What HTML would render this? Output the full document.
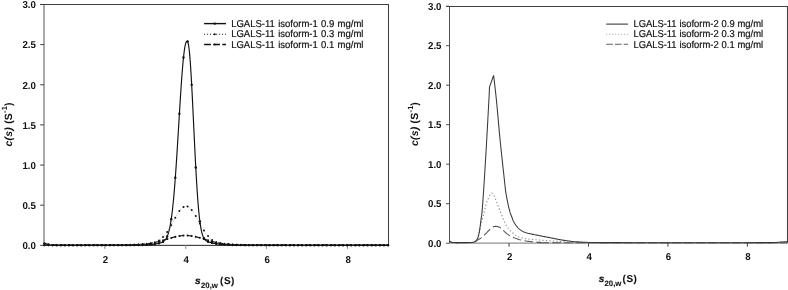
<!DOCTYPE html>
<html><head><meta charset="utf-8"><style>
html,body{margin:0;padding:0;background:#fff;}
svg{display:block;will-change:transform;}
text{font-family:"Liberation Sans",sans-serif;text-rendering:geometricPrecision;}
.tk{font-size:10.0px;font-weight:bold;fill:#111;}
.lg{font-size:10.0px;fill:#111;stroke:#111;stroke-width:0.2px;word-spacing:0.7px;}
.lgr{font-size:10.0px;fill:#111;stroke:#111;stroke-width:0.2px;word-spacing:0.3px;}
.ti{font-size:10.0px;font-weight:bold;fill:#111;}
</style></head><body>
<svg width="788" height="290" viewBox="0 0 788 290">
<rect width="788" height="290" fill="#fff"/>
<line x1="44.0" y1="4.5" x2="44.0" y2="245.35" stroke="#a0a0a0" stroke-width="1.8"/>
<polyline points="40,4.5 388.5,4.5 388.5,245.35" fill="none" stroke="#404040" stroke-width="1.05"/>
<line x1="44.0" y1="245.35" x2="388.5" y2="245.35" stroke="#222" stroke-width="1"/>
<line x1="40.2" y1="245.35" x2="44.0" y2="245.35" stroke="#404040" stroke-width="1"/>
<text class="tk" transform="translate(35.90,249.10) scale(0.97,1)" text-anchor="end">0.0</text>
<line x1="40.2" y1="205.20" x2="44.0" y2="205.20" stroke="#404040" stroke-width="1"/>
<text class="tk" transform="translate(35.90,208.95) scale(0.97,1)" text-anchor="end">0.5</text>
<line x1="40.2" y1="165.05" x2="44.0" y2="165.05" stroke="#404040" stroke-width="1"/>
<text class="tk" transform="translate(35.90,168.80) scale(0.97,1)" text-anchor="end">1.0</text>
<line x1="40.2" y1="124.90" x2="44.0" y2="124.90" stroke="#404040" stroke-width="1"/>
<text class="tk" transform="translate(35.90,128.65) scale(0.97,1)" text-anchor="end">1.5</text>
<line x1="40.2" y1="84.75" x2="44.0" y2="84.75" stroke="#404040" stroke-width="1"/>
<text class="tk" transform="translate(35.90,88.50) scale(0.97,1)" text-anchor="end">2.0</text>
<line x1="40.2" y1="44.60" x2="44.0" y2="44.60" stroke="#404040" stroke-width="1"/>
<text class="tk" transform="translate(35.90,48.35) scale(0.97,1)" text-anchor="end">2.5</text>
<line x1="40.2" y1="4.45" x2="44.0" y2="4.45" stroke="#404040" stroke-width="1"/>
<text class="tk" transform="translate(35.90,8.20) scale(0.97,1)" text-anchor="end">3.0</text>
<line x1="104.80" y1="245.35" x2="104.80" y2="248.95" stroke="#909090" stroke-width="1"/>
<text class="tk" transform="translate(105.40,262.90) scale(0.97,1)" text-anchor="middle">2</text>
<line x1="185.70" y1="245.35" x2="185.70" y2="248.95" stroke="#909090" stroke-width="1"/>
<text class="tk" transform="translate(186.30,262.90) scale(0.97,1)" text-anchor="middle">4</text>
<line x1="266.60" y1="245.35" x2="266.60" y2="248.95" stroke="#909090" stroke-width="1"/>
<text class="tk" transform="translate(267.20,262.90) scale(0.97,1)" text-anchor="middle">6</text>
<line x1="347.50" y1="245.35" x2="347.50" y2="248.95" stroke="#909090" stroke-width="1"/>
<text class="tk" transform="translate(348.10,262.90) scale(0.97,1)" text-anchor="middle">8</text>
<polyline points="44.10,245.15 44.60,245.15 45.10,245.15 45.60,245.15 46.10,245.15 46.60,245.15 47.10,245.15 47.60,245.15 48.10,245.15 48.60,245.15 49.10,245.15 49.60,245.15 50.10,245.15 50.60,245.15 51.10,245.15 51.60,245.15 52.10,245.15 52.60,245.15 53.10,245.15 53.60,245.15 54.10,245.15 54.60,245.15 55.10,245.15 55.60,245.15 56.10,245.15 56.60,245.15 57.10,245.15 57.60,245.15 58.10,245.15 58.60,245.15 59.10,245.14 59.60,245.14 60.10,245.14 60.60,245.14 61.10,245.14 61.60,245.14 62.10,245.14 62.60,245.14 63.10,245.14 63.60,245.14 64.10,245.14 64.60,245.14 65.10,245.14 65.60,245.14 66.10,245.14 66.60,245.14 67.10,245.14 67.60,245.14 68.10,245.14 68.60,245.14 69.10,245.14 69.60,245.14 70.10,245.14 70.60,245.14 71.10,245.14 71.60,245.14 72.10,245.14 72.60,245.14 73.10,245.14 73.60,245.14 74.10,245.14 74.60,245.14 75.10,245.14 75.60,245.13 76.10,245.13 76.60,245.13 77.10,245.13 77.60,245.13 78.10,245.13 78.60,245.13 79.10,245.13 79.60,245.13 80.10,245.13 80.60,245.13 81.10,245.13 81.60,245.13 82.10,245.13 82.60,245.13 83.10,245.13 83.60,245.12 84.10,245.12 84.60,245.12 85.10,245.12 85.60,245.12 86.10,245.12 86.60,245.12 87.10,245.12 87.60,245.12 88.10,245.12 88.60,245.12 89.10,245.11 89.60,245.11 90.10,245.11 90.60,245.11 91.10,245.11 91.60,245.11 92.10,245.11 92.60,245.11 93.10,245.10 93.60,245.10 94.10,245.10 94.60,245.10 95.10,245.10 95.60,245.10 96.10,245.10 96.60,245.10 97.10,245.09 97.60,245.09 98.10,245.09 98.60,245.09 99.10,245.09 99.60,245.09 100.10,245.08 100.60,245.08 101.10,245.08 101.60,245.08 102.10,245.08 102.60,245.07 103.10,245.07 103.60,245.07 104.10,245.07 104.60,245.07 105.10,245.06 105.60,245.06 106.10,245.06 106.60,245.06 107.10,245.05 107.60,245.05 108.10,245.05 108.60,245.05 109.10,245.04 109.60,245.04 110.10,245.04 110.60,245.04 111.10,245.03 111.60,245.03 112.10,245.03 112.60,245.02 113.10,245.02 113.60,245.02 114.10,245.01 114.60,245.01 115.10,245.01 115.60,245.00 116.10,245.00 116.60,245.00 117.10,244.99 117.60,244.99 118.10,244.98 118.60,244.98 119.10,244.97 119.60,244.97 120.10,244.96 120.60,244.96 121.10,244.95 121.60,244.95 122.10,244.94 122.60,244.94 123.10,244.93 123.60,244.92 124.10,244.92 124.60,244.91 125.10,244.90 125.60,244.89 126.10,244.89 126.60,244.88 127.10,244.87 127.60,244.86 128.10,244.85 128.60,244.84 129.10,244.83 129.60,244.82 130.10,244.80 130.60,244.79 131.10,244.78 131.60,244.76 132.10,244.75 132.60,244.73 133.10,244.72 133.60,244.70 134.10,244.68 134.60,244.66 135.10,244.64 135.60,244.62 136.10,244.60 136.60,244.58 137.10,244.55 137.60,244.53 138.10,244.50 138.60,244.47 139.10,244.44 139.60,244.41 140.10,244.38 140.60,244.34 141.10,244.30 141.60,244.27 142.10,244.23 142.60,244.19 143.10,244.14 143.60,244.10 144.10,244.05 144.60,244.00 145.10,243.95 145.60,243.89 146.10,243.83 146.60,243.78 147.10,243.71 147.60,243.65 148.10,243.58 148.60,243.51 149.10,243.44 149.60,243.37 150.10,243.29 150.60,243.21 151.10,243.13 151.60,243.04 152.10,242.95 152.60,242.86 153.10,242.77 153.60,242.67 154.10,242.57 154.60,242.46 155.10,242.36 155.60,242.25 156.10,242.14 156.60,242.02 157.10,241.91 157.60,241.79 158.10,241.66 158.60,241.54 159.10,241.41 159.60,241.28 160.10,241.15 160.60,241.01 161.10,240.87 161.60,240.74 162.10,240.59 162.60,240.45 163.10,240.31 163.60,240.16 164.10,240.02 164.60,239.87 165.10,239.72 165.60,239.57 166.10,239.42 166.60,239.27 167.10,239.12 167.60,238.97 168.10,238.82 168.60,238.67 169.10,238.52 169.60,238.37 170.10,238.22 170.60,238.08 171.10,237.93 171.60,237.79 172.10,237.65 172.60,237.51 173.10,237.38 173.60,237.25 174.10,237.12 174.60,236.99 175.10,236.87 175.60,236.76 176.10,236.64 176.60,236.53 177.10,236.43 177.60,236.33 178.10,236.23 178.60,236.14 179.10,236.06 179.60,235.98 180.10,235.91 180.60,235.84 181.10,235.78 181.60,235.72 182.10,235.68 182.60,235.63 183.10,235.60 183.60,235.57 184.10,235.54 184.60,235.53 185.10,235.52 185.60,235.51 186.10,235.52 186.60,235.53 187.10,235.54 187.60,235.57 188.10,235.60 188.60,235.63 189.10,235.68 189.60,235.72 190.10,235.78 190.60,235.84 191.10,235.91 191.60,235.98 192.10,236.06 192.60,236.14 193.10,236.23 193.60,236.33 194.10,236.43 194.60,236.53 195.10,236.64 195.60,236.76 196.10,236.87 196.60,236.99 197.10,237.12 197.60,237.25 198.10,237.38 198.60,237.51 199.10,237.65 199.60,237.79 200.10,237.93 200.60,238.08 201.10,238.22 201.60,238.37 202.10,238.52 202.60,238.67 203.10,238.82 203.60,238.97 204.10,239.12 204.60,239.27 205.10,239.42 205.60,239.57 206.10,239.72 206.60,239.87 207.10,240.02 207.60,240.16 208.10,240.31 208.60,240.45 209.10,240.59 209.60,240.74 210.10,240.87 210.60,241.01 211.10,241.15 211.60,241.28 212.10,241.41 212.60,241.54 213.10,241.66 213.60,241.79 214.10,241.91 214.60,242.02 215.10,242.14 215.60,242.25 216.10,242.36 216.60,242.46 217.10,242.57 217.60,242.67 218.10,242.77 218.60,242.86 219.10,242.95 219.60,243.04 220.10,243.13 220.60,243.21 221.10,243.29 221.60,243.37 222.10,243.44 222.60,243.51 223.10,243.58 223.60,243.65 224.10,243.71 224.60,243.78 225.10,243.83 225.60,243.89 226.10,243.95 226.60,244.00 227.10,244.05 227.60,244.10 228.10,244.14 228.60,244.19 229.10,244.23 229.60,244.27 230.10,244.30 230.60,244.34 231.10,244.38 231.60,244.41 232.10,244.44 232.60,244.47 233.10,244.50 233.60,244.53 234.10,244.55 234.60,244.58 235.10,244.60 235.60,244.62 236.10,244.64 236.60,244.66 237.10,244.68 237.60,244.70 238.10,244.72 238.60,244.73 239.10,244.75 239.60,244.76 240.10,244.78 240.60,244.79 241.10,244.80 241.60,244.82 242.10,244.83 242.60,244.84 243.10,244.85 243.60,244.86 244.10,244.87 244.60,244.88 245.10,244.89 245.60,244.89 246.10,244.90 246.60,244.91 247.10,244.92 247.60,244.92 248.10,244.93 248.60,244.94 249.10,244.94 249.60,244.95 250.10,244.95 250.60,244.96 251.10,244.96 251.60,244.97 252.10,244.97 252.60,244.98 253.10,244.98 253.60,244.99 254.10,244.99 254.60,245.00 255.10,245.00 255.60,245.00 256.10,245.01 256.60,245.01 257.10,245.01 257.60,245.02 258.10,245.02 258.60,245.02 259.10,245.03 259.60,245.03 260.10,245.03 260.60,245.04 261.10,245.04 261.60,245.04 262.10,245.04 262.60,245.05 263.10,245.05 263.60,245.05 264.10,245.05 264.60,245.06 265.10,245.06 265.60,245.06 266.10,245.06 266.60,245.07 267.10,245.07 267.60,245.07 268.10,245.07 268.60,245.07 269.10,245.08 269.60,245.08 270.10,245.08 270.60,245.08 271.10,245.08 271.60,245.09 272.10,245.09 272.60,245.09 273.10,245.09 273.60,245.09 274.10,245.09 274.60,245.10 275.10,245.10 275.60,245.10 276.10,245.10 276.60,245.10 277.10,245.10 277.60,245.10 278.10,245.10 278.60,245.11 279.10,245.11 279.60,245.11 280.10,245.11 280.60,245.11 281.10,245.11 281.60,245.11 282.10,245.11 282.60,245.12 283.10,245.12 283.60,245.12 284.10,245.12 284.60,245.12 285.10,245.12 285.60,245.12 286.10,245.12 286.60,245.12 287.10,245.12 287.60,245.12 288.10,245.13 288.60,245.13 289.10,245.13 289.60,245.13 290.10,245.13 290.60,245.13 291.10,245.13 291.60,245.13 292.10,245.13 292.60,245.13 293.10,245.13 293.60,245.13 294.10,245.13 294.60,245.13 295.10,245.13 295.60,245.13 296.10,245.14 296.60,245.14 297.10,245.14 297.60,245.14 298.10,245.14 298.60,245.14 299.10,245.14 299.60,245.14 300.10,245.14 300.60,245.14 301.10,245.14 301.60,245.14 302.10,245.14 302.60,245.14 303.10,245.14 303.60,245.14 304.10,245.14 304.60,245.14 305.10,245.14 305.60,245.14 306.10,245.14 306.60,245.14 307.10,245.14 307.60,245.14 308.10,245.14 308.60,245.14 309.10,245.14 309.60,245.14 310.10,245.14 310.60,245.14 311.10,245.14 311.60,245.14 312.10,245.14 312.60,245.15 313.10,245.15 313.60,245.15 314.10,245.15 314.60,245.15 315.10,245.15 315.60,245.15 316.10,245.15 316.60,245.15 317.10,245.15 317.60,245.15 318.10,245.15 318.60,245.15 319.10,245.15 319.60,245.15 320.10,245.15 320.60,245.15 321.10,245.15 321.60,245.15 322.10,245.15 322.60,245.15 323.10,245.15 323.60,245.15 324.10,245.15 324.60,245.15 325.10,245.15 325.60,245.15 326.10,245.15 326.60,245.15 327.10,245.15 327.60,245.15 328.10,245.15 328.60,245.15 329.10,245.15 329.60,245.15 330.10,245.15 330.60,245.15 331.10,245.15 331.60,245.15 332.10,245.15 332.60,245.15 333.10,245.15 333.60,245.15 334.10,245.15 334.60,245.15 335.10,245.15 335.60,245.15 336.10,245.15 336.60,245.15 337.10,245.15 337.60,245.15 338.10,245.15 338.60,245.15 339.10,245.15 339.60,245.15 340.10,245.15 340.60,245.15 341.10,245.15 341.60,245.15 342.10,245.15 342.60,245.15 343.10,245.15 343.60,245.15 344.10,245.15 344.60,245.15 345.10,245.15 345.60,245.15 346.10,245.15 346.60,245.15 347.10,245.15 347.60,245.15 348.10,245.15 348.60,245.15 349.10,245.15 349.60,245.15 350.10,245.15 350.60,245.15 351.10,245.15 351.60,245.15 352.10,245.15 352.60,245.15 353.10,245.15 353.60,245.15 354.10,245.15 354.60,245.15 355.10,245.15 355.60,245.15 356.10,245.15 356.60,245.15 357.10,245.15 357.60,245.15 358.10,245.15 358.60,245.15 359.10,245.15 359.60,245.15 360.10,245.15 360.60,245.15 361.10,245.15 361.60,245.15 362.10,245.15 362.60,245.15 363.10,245.15 363.60,245.15 364.10,245.15 364.60,245.15 365.10,245.15 365.60,245.15 366.10,245.15 366.60,245.15 367.10,245.15 367.60,245.15 368.10,245.15 368.60,245.15 369.10,245.15 369.60,245.15 370.10,245.15 370.60,245.15 371.10,245.15 371.60,245.15 372.10,245.15 372.60,245.15 373.10,245.15 373.60,245.15 374.10,245.15 374.60,245.15 375.10,245.15 375.60,245.15 376.10,245.15 376.60,245.15 377.10,245.15 377.60,245.15 378.10,245.15 378.60,245.15 379.10,245.15 379.60,245.15 380.10,245.15 380.60,245.15 381.10,245.15 381.60,245.15 382.10,245.15 382.60,245.15 383.10,245.15 383.60,245.15 384.10,245.15 384.60,245.15 385.10,245.15 385.60,245.15 386.10,245.15 386.60,245.15 387.10,245.15 387.60,245.15 388.10,245.15" fill="none" stroke="#111" stroke-width="1.1" stroke-dasharray="5,3"/>
<g fill="#111"><circle cx="44.40" cy="245.15" r="1.0"/><circle cx="48.49" cy="245.15" r="1.0"/><circle cx="52.58" cy="245.15" r="1.0"/><circle cx="56.67" cy="245.15" r="1.0"/><circle cx="60.76" cy="245.14" r="1.0"/><circle cx="64.86" cy="245.14" r="1.0"/><circle cx="68.95" cy="245.14" r="1.0"/><circle cx="73.04" cy="245.14" r="1.0"/><circle cx="77.13" cy="245.13" r="1.0"/><circle cx="81.22" cy="245.13" r="1.0"/><circle cx="85.31" cy="245.12" r="1.0"/><circle cx="89.40" cy="245.11" r="1.0"/><circle cx="93.49" cy="245.10" r="1.0"/><circle cx="97.58" cy="245.09" r="1.0"/><circle cx="101.67" cy="245.08" r="1.0"/><circle cx="105.77" cy="245.06" r="1.0"/><circle cx="109.86" cy="245.04" r="1.0"/><circle cx="113.95" cy="245.02" r="1.0"/><circle cx="118.04" cy="244.98" r="1.0"/><circle cx="122.13" cy="244.94" r="1.0"/><circle cx="126.22" cy="244.88" r="1.0"/><circle cx="130.31" cy="244.80" r="1.0"/><circle cx="134.40" cy="244.67" r="1.0"/><circle cx="138.49" cy="244.48" r="1.0"/><circle cx="142.58" cy="244.19" r="1.0"/><circle cx="146.68" cy="243.77" r="1.0"/><circle cx="150.77" cy="243.18" r="1.0"/><circle cx="154.86" cy="242.41" r="1.0"/><circle cx="158.95" cy="241.45" r="1.0"/><circle cx="163.04" cy="240.33" r="1.0"/><circle cx="167.13" cy="239.11" r="1.0"/><circle cx="171.22" cy="237.90" r="1.0"/><circle cx="175.31" cy="236.82" r="1.0"/><circle cx="179.40" cy="236.01" r="1.0"/><circle cx="183.49" cy="235.57" r="1.0"/><circle cx="187.59" cy="235.57" r="1.0"/><circle cx="191.68" cy="235.99" r="1.0"/><circle cx="195.77" cy="236.79" r="1.0"/><circle cx="199.86" cy="237.86" r="1.0"/><circle cx="203.95" cy="239.07" r="1.0"/><circle cx="208.04" cy="240.29" r="1.0"/><circle cx="212.13" cy="241.42" r="1.0"/><circle cx="216.22" cy="242.38" r="1.0"/><circle cx="220.31" cy="243.16" r="1.0"/><circle cx="224.40" cy="243.75" r="1.0"/><circle cx="228.50" cy="244.18" r="1.0"/><circle cx="232.59" cy="244.47" r="1.0"/><circle cx="236.68" cy="244.67" r="1.0"/><circle cx="240.77" cy="244.80" r="1.0"/><circle cx="244.86" cy="244.88" r="1.0"/><circle cx="248.95" cy="244.94" r="1.0"/><circle cx="253.04" cy="244.98" r="1.0"/><circle cx="257.13" cy="245.01" r="1.0"/><circle cx="261.22" cy="245.04" r="1.0"/><circle cx="265.31" cy="245.06" r="1.0"/><circle cx="269.41" cy="245.08" r="1.0"/><circle cx="273.50" cy="245.09" r="1.0"/><circle cx="277.59" cy="245.10" r="1.0"/><circle cx="281.68" cy="245.11" r="1.0"/><circle cx="285.77" cy="245.12" r="1.0"/><circle cx="289.86" cy="245.13" r="1.0"/><circle cx="293.95" cy="245.13" r="1.0"/><circle cx="298.04" cy="245.14" r="1.0"/><circle cx="302.13" cy="245.14" r="1.0"/><circle cx="306.22" cy="245.14" r="1.0"/><circle cx="310.31" cy="245.14" r="1.0"/><circle cx="314.41" cy="245.15" r="1.0"/><circle cx="318.50" cy="245.15" r="1.0"/><circle cx="322.59" cy="245.15" r="1.0"/><circle cx="326.68" cy="245.15" r="1.0"/><circle cx="330.77" cy="245.15" r="1.0"/><circle cx="334.86" cy="245.15" r="1.0"/><circle cx="338.95" cy="245.15" r="1.0"/><circle cx="343.04" cy="245.15" r="1.0"/><circle cx="347.13" cy="245.15" r="1.0"/><circle cx="351.22" cy="245.15" r="1.0"/><circle cx="355.32" cy="245.15" r="1.0"/><circle cx="359.41" cy="245.15" r="1.0"/><circle cx="363.50" cy="245.15" r="1.0"/><circle cx="367.59" cy="245.15" r="1.0"/><circle cx="371.68" cy="245.15" r="1.0"/><circle cx="375.77" cy="245.15" r="1.0"/><circle cx="379.86" cy="245.15" r="1.0"/><circle cx="383.95" cy="245.15" r="1.0"/><circle cx="388.04" cy="245.15" r="1.0"/></g>
<polyline points="44.10,245.15 44.60,245.15 45.10,245.15 45.60,245.15 46.10,245.15 46.60,245.15 47.10,245.15 47.60,245.15 48.10,245.15 48.60,245.15 49.10,245.15 49.60,245.15 50.10,245.15 50.60,245.15 51.10,245.15 51.60,245.15 52.10,245.15 52.60,245.15 53.10,245.15 53.60,245.15 54.10,245.15 54.60,245.15 55.10,245.15 55.60,245.15 56.10,245.15 56.60,245.15 57.10,245.15 57.60,245.15 58.10,245.15 58.60,245.15 59.10,245.15 59.60,245.15 60.10,245.15 60.60,245.15 61.10,245.15 61.60,245.15 62.10,245.15 62.60,245.15 63.10,245.15 63.60,245.15 64.10,245.15 64.60,245.15 65.10,245.15 65.60,245.15 66.10,245.15 66.60,245.15 67.10,245.15 67.60,245.15 68.10,245.15 68.60,245.15 69.10,245.15 69.60,245.15 70.10,245.15 70.60,245.15 71.10,245.15 71.60,245.15 72.10,245.15 72.60,245.15 73.10,245.15 73.60,245.15 74.10,245.15 74.60,245.15 75.10,245.15 75.60,245.15 76.10,245.15 76.60,245.15 77.10,245.15 77.60,245.15 78.10,245.15 78.60,245.15 79.10,245.15 79.60,245.15 80.10,245.15 80.60,245.15 81.10,245.15 81.60,245.15 82.10,245.15 82.60,245.15 83.10,245.15 83.60,245.15 84.10,245.15 84.60,245.15 85.10,245.15 85.60,245.15 86.10,245.15 86.60,245.15 87.10,245.15 87.60,245.15 88.10,245.15 88.60,245.15 89.10,245.15 89.60,245.14 90.10,245.14 90.60,245.14 91.10,245.14 91.60,245.14 92.10,245.14 92.60,245.14 93.10,245.14 93.60,245.14 94.10,245.14 94.60,245.14 95.10,245.14 95.60,245.14 96.10,245.14 96.60,245.14 97.10,245.14 97.60,245.14 98.10,245.14 98.60,245.14 99.10,245.14 99.60,245.14 100.10,245.13 100.60,245.13 101.10,245.13 101.60,245.13 102.10,245.13 102.60,245.13 103.10,245.13 103.60,245.13 104.10,245.13 104.60,245.13 105.10,245.12 105.60,245.12 106.10,245.12 106.60,245.12 107.10,245.12 107.60,245.12 108.10,245.12 108.60,245.11 109.10,245.11 109.60,245.11 110.10,245.11 110.60,245.11 111.10,245.10 111.60,245.10 112.10,245.10 112.60,245.10 113.10,245.10 113.60,245.09 114.10,245.09 114.60,245.09 115.10,245.08 115.60,245.08 116.10,245.08 116.60,245.07 117.10,245.07 117.60,245.07 118.10,245.06 118.60,245.06 119.10,245.06 119.60,245.05 120.10,245.05 120.60,245.04 121.10,245.04 121.60,245.04 122.10,245.03 122.60,245.03 123.10,245.02 123.60,245.02 124.10,245.01 124.60,245.00 125.10,245.00 125.60,244.99 126.10,244.99 126.60,244.98 127.10,244.97 127.60,244.97 128.10,244.96 128.60,244.95 129.10,244.94 129.60,244.94 130.10,244.93 130.60,244.92 131.10,244.91 131.60,244.90 132.10,244.89 132.60,244.88 133.10,244.87 133.60,244.86 134.10,244.85 134.60,244.84 135.10,244.83 135.60,244.82 136.10,244.81 136.60,244.80 137.10,244.78 137.60,244.77 138.10,244.75 138.60,244.74 139.10,244.72 139.60,244.70 140.10,244.69 140.60,244.67 141.10,244.65 141.60,244.62 142.10,244.60 142.60,244.58 143.10,244.55 143.60,244.52 144.10,244.49 144.60,244.46 145.10,244.42 145.60,244.38 146.10,244.34 146.60,244.29 147.10,244.24 147.60,244.19 148.10,244.13 148.60,244.07 149.10,244.00 149.60,243.92 150.10,243.84 150.60,243.75 151.10,243.65 151.60,243.55 152.10,243.43 152.60,243.31 153.10,243.17 153.60,243.03 154.10,242.87 154.60,242.70 155.10,242.52 155.60,242.32 156.10,242.10 156.60,241.87 157.10,241.63 157.60,241.36 158.10,241.08 158.60,240.78 159.10,240.45 159.60,240.11 160.10,239.74 160.60,239.35 161.10,238.93 161.60,238.49 162.10,238.03 162.60,237.54 163.10,237.03 163.60,236.49 164.10,235.92 164.60,235.33 165.10,234.71 165.60,234.06 166.10,233.39 166.60,232.69 167.10,231.97 167.60,231.22 168.10,230.45 168.60,229.65 169.10,228.84 169.60,228.01 170.10,227.15 170.60,226.29 171.10,225.41 171.60,224.51 172.10,223.61 172.60,222.70 173.10,221.78 173.60,220.86 174.10,219.95 174.60,219.04 175.10,218.13 175.60,217.24 176.10,216.35 176.60,215.49 177.10,214.64 177.60,213.82 178.10,213.03 178.60,212.26 179.10,211.53 179.60,210.83 180.10,210.18 180.60,209.56 181.10,208.99 181.60,208.47 182.10,207.99 182.60,207.57 183.10,207.20 183.60,206.89 184.10,206.64 184.60,206.44 185.10,206.30 185.60,206.22 186.10,206.20 186.60,206.25 187.10,206.35 187.60,206.51 188.10,206.73 188.60,207.01 189.10,207.34 189.60,207.73 190.10,208.18 190.60,208.67 191.10,209.21 191.60,209.80 192.10,210.43 192.60,211.11 193.10,211.82 193.60,212.56 194.10,213.34 194.60,214.15 195.10,214.98 195.60,215.83 196.10,216.70 196.60,217.59 197.10,218.49 197.60,219.40 198.10,220.31 198.60,221.23 199.10,222.15 199.60,223.06 200.10,223.97 200.60,224.87 201.10,225.76 201.60,226.64 202.10,227.50 202.60,228.34 203.10,229.17 203.60,229.97 204.10,230.76 204.60,231.52 205.10,232.26 205.60,232.97 206.10,233.66 206.60,234.32 207.10,234.96 207.60,235.57 208.10,236.15 208.60,236.71 209.10,237.24 209.60,237.74 210.10,238.22 210.60,238.67 211.10,239.10 211.60,239.51 212.10,239.89 212.60,240.25 213.10,240.58 213.60,240.90 214.10,241.19 214.60,241.47 215.10,241.73 215.60,241.97 216.10,242.19 216.60,242.40 217.10,242.59 217.60,242.77 218.10,242.94 218.60,243.09 219.10,243.23 219.60,243.36 220.10,243.48 220.60,243.59 221.10,243.69 221.60,243.79 222.10,243.87 222.60,243.95 223.10,244.03 223.60,244.09 224.10,244.15 224.60,244.21 225.10,244.26 225.60,244.31 226.10,244.36 226.60,244.40 227.10,244.43 227.60,244.47 228.10,244.50 228.60,244.53 229.10,244.56 229.60,244.59 230.10,244.61 230.60,244.63 231.10,244.65 231.60,244.67 232.10,244.69 232.60,244.71 233.10,244.73 233.60,244.74 234.10,244.76 234.60,244.77 235.10,244.79 235.60,244.80 236.10,244.81 236.60,244.83 237.10,244.84 237.60,244.85 238.10,244.86 238.60,244.87 239.10,244.88 239.60,244.89 240.10,244.90 240.60,244.91 241.10,244.92 241.60,244.92 242.10,244.93 242.60,244.94 243.10,244.95 243.60,244.95 244.10,244.96 244.60,244.97 245.10,244.98 245.60,244.98 246.10,244.99 246.60,244.99 247.10,245.00 247.60,245.01 248.10,245.01 248.60,245.02 249.10,245.02 249.60,245.03 250.10,245.03 250.60,245.04 251.10,245.04 251.60,245.05 252.10,245.05 252.60,245.05 253.10,245.06 253.60,245.06 254.10,245.07 254.60,245.07 255.10,245.07 255.60,245.08 256.10,245.08 256.60,245.08 257.10,245.09 257.60,245.09 258.10,245.09 258.60,245.09 259.10,245.10 259.60,245.10 260.10,245.10 260.60,245.10 261.10,245.11 261.60,245.11 262.10,245.11 262.60,245.11 263.10,245.11 263.60,245.11 264.10,245.12 264.60,245.12 265.10,245.12 265.60,245.12 266.10,245.12 266.60,245.12 267.10,245.13 267.60,245.13 268.10,245.13 268.60,245.13 269.10,245.13 269.60,245.13 270.10,245.13 270.60,245.13 271.10,245.13 271.60,245.13 272.10,245.14 272.60,245.14 273.10,245.14 273.60,245.14 274.10,245.14 274.60,245.14 275.10,245.14 275.60,245.14 276.10,245.14 276.60,245.14 277.10,245.14 277.60,245.14 278.10,245.14 278.60,245.14 279.10,245.14 279.60,245.14 280.10,245.14 280.60,245.14 281.10,245.14 281.60,245.14 282.10,245.14 282.60,245.15 283.10,245.15 283.60,245.15 284.10,245.15 284.60,245.15 285.10,245.15 285.60,245.15 286.10,245.15 286.60,245.15 287.10,245.15 287.60,245.15 288.10,245.15 288.60,245.15 289.10,245.15 289.60,245.15 290.10,245.15 290.60,245.15 291.10,245.15 291.60,245.15 292.10,245.15 292.60,245.15 293.10,245.15 293.60,245.15 294.10,245.15 294.60,245.15 295.10,245.15 295.60,245.15 296.10,245.15 296.60,245.15 297.10,245.15 297.60,245.15 298.10,245.15 298.60,245.15 299.10,245.15 299.60,245.15 300.10,245.15 300.60,245.15 301.10,245.15 301.60,245.15 302.10,245.15 302.60,245.15 303.10,245.15 303.60,245.15 304.10,245.15 304.60,245.15 305.10,245.15 305.60,245.15 306.10,245.15 306.60,245.15 307.10,245.15 307.60,245.15 308.10,245.15 308.60,245.15 309.10,245.15 309.60,245.15 310.10,245.15 310.60,245.15 311.10,245.15 311.60,245.15 312.10,245.15 312.60,245.15 313.10,245.15 313.60,245.15 314.10,245.15 314.60,245.15 315.10,245.15 315.60,245.15 316.10,245.15 316.60,245.15 317.10,245.15 317.60,245.15 318.10,245.15 318.60,245.15 319.10,245.15 319.60,245.15 320.10,245.15 320.60,245.15 321.10,245.15 321.60,245.15 322.10,245.15 322.60,245.15 323.10,245.15 323.60,245.15 324.10,245.15 324.60,245.15 325.10,245.15 325.60,245.15 326.10,245.15 326.60,245.15 327.10,245.15 327.60,245.15 328.10,245.15 328.60,245.15 329.10,245.15 329.60,245.15 330.10,245.15 330.60,245.15 331.10,245.15 331.60,245.15 332.10,245.15 332.60,245.15 333.10,245.15 333.60,245.15 334.10,245.15 334.60,245.15 335.10,245.15 335.60,245.15 336.10,245.15 336.60,245.15 337.10,245.15 337.60,245.15 338.10,245.15 338.60,245.15 339.10,245.15 339.60,245.15 340.10,245.15 340.60,245.15 341.10,245.15 341.60,245.15 342.10,245.15 342.60,245.15 343.10,245.15 343.60,245.15 344.10,245.15 344.60,245.15 345.10,245.15 345.60,245.15 346.10,245.15 346.60,245.15 347.10,245.15 347.60,245.15 348.10,245.15 348.60,245.15 349.10,245.15 349.60,245.15 350.10,245.15 350.60,245.15 351.10,245.15 351.60,245.15 352.10,245.15 352.60,245.15 353.10,245.15 353.60,245.15 354.10,245.15 354.60,245.15 355.10,245.15 355.60,245.15 356.10,245.15 356.60,245.15 357.10,245.15 357.60,245.15 358.10,245.15 358.60,245.15 359.10,245.15 359.60,245.15 360.10,245.15 360.60,245.15 361.10,245.15 361.60,245.15 362.10,245.15 362.60,245.15 363.10,245.15 363.60,245.15 364.10,245.15 364.60,245.15 365.10,245.15 365.60,245.15 366.10,245.15 366.60,245.15 367.10,245.15 367.60,245.15 368.10,245.15 368.60,245.15 369.10,245.15 369.60,245.15 370.10,245.15 370.60,245.15 371.10,245.15 371.60,245.15 372.10,245.15 372.60,245.15 373.10,245.15 373.60,245.15 374.10,245.15 374.60,245.15 375.10,245.15 375.60,245.15 376.10,245.15 376.60,245.15 377.10,245.15 377.60,245.15 378.10,245.15 378.60,245.15 379.10,245.15 379.60,245.15 380.10,245.15 380.60,245.15 381.10,245.15 381.60,245.15 382.10,245.15 382.60,245.15 383.10,245.15 383.60,245.15 384.10,245.15 384.60,245.15 385.10,245.15 385.60,245.15 386.10,245.15 386.60,245.15 387.10,245.15 387.60,245.15 388.10,245.15" fill="none" stroke="#999" stroke-width="0.8" stroke-dasharray="0.8,1.6"/>
<g fill="#111"><circle cx="44.40" cy="245.15" r="1.0"/><circle cx="48.49" cy="245.15" r="1.0"/><circle cx="52.58" cy="245.15" r="1.0"/><circle cx="56.67" cy="245.15" r="1.0"/><circle cx="60.76" cy="245.15" r="1.0"/><circle cx="64.86" cy="245.15" r="1.0"/><circle cx="68.95" cy="245.15" r="1.0"/><circle cx="73.04" cy="245.15" r="1.0"/><circle cx="77.13" cy="245.15" r="1.0"/><circle cx="81.22" cy="245.15" r="1.0"/><circle cx="85.31" cy="245.15" r="1.0"/><circle cx="89.40" cy="245.15" r="1.0"/><circle cx="93.49" cy="245.14" r="1.0"/><circle cx="97.58" cy="245.14" r="1.0"/><circle cx="101.67" cy="245.13" r="1.0"/><circle cx="105.77" cy="245.12" r="1.0"/><circle cx="109.86" cy="245.11" r="1.0"/><circle cx="113.95" cy="245.09" r="1.0"/><circle cx="118.04" cy="245.06" r="1.0"/><circle cx="122.13" cy="245.03" r="1.0"/><circle cx="126.22" cy="244.98" r="1.0"/><circle cx="130.31" cy="244.93" r="1.0"/><circle cx="134.40" cy="244.85" r="1.0"/><circle cx="138.49" cy="244.74" r="1.0"/><circle cx="142.58" cy="244.58" r="1.0"/><circle cx="146.68" cy="244.29" r="1.0"/><circle cx="150.77" cy="243.72" r="1.0"/><circle cx="154.86" cy="242.61" r="1.0"/><circle cx="158.95" cy="240.55" r="1.0"/><circle cx="163.04" cy="237.09" r="1.0"/><circle cx="167.13" cy="231.92" r="1.0"/><circle cx="171.22" cy="225.19" r="1.0"/><circle cx="175.31" cy="217.75" r="1.0"/><circle cx="179.40" cy="211.10" r="1.0"/><circle cx="183.49" cy="206.95" r="1.0"/><circle cx="187.59" cy="206.51" r="1.0"/><circle cx="191.68" cy="209.89" r="1.0"/><circle cx="195.77" cy="216.12" r="1.0"/><circle cx="199.86" cy="223.53" r="1.0"/><circle cx="203.95" cy="230.52" r="1.0"/><circle cx="208.04" cy="236.08" r="1.0"/><circle cx="212.13" cy="239.91" r="1.0"/><circle cx="216.22" cy="242.24" r="1.0"/><circle cx="220.31" cy="243.53" r="1.0"/><circle cx="224.40" cy="244.19" r="1.0"/><circle cx="228.50" cy="244.53" r="1.0"/><circle cx="232.59" cy="244.71" r="1.0"/><circle cx="236.68" cy="244.83" r="1.0"/><circle cx="240.77" cy="244.91" r="1.0"/><circle cx="244.86" cy="244.97" r="1.0"/><circle cx="248.95" cy="245.02" r="1.0"/><circle cx="253.04" cy="245.06" r="1.0"/><circle cx="257.13" cy="245.09" r="1.0"/><circle cx="261.22" cy="245.11" r="1.0"/><circle cx="265.31" cy="245.12" r="1.0"/><circle cx="269.41" cy="245.13" r="1.0"/><circle cx="273.50" cy="245.14" r="1.0"/><circle cx="277.59" cy="245.14" r="1.0"/><circle cx="281.68" cy="245.14" r="1.0"/><circle cx="285.77" cy="245.15" r="1.0"/><circle cx="289.86" cy="245.15" r="1.0"/><circle cx="293.95" cy="245.15" r="1.0"/><circle cx="298.04" cy="245.15" r="1.0"/><circle cx="302.13" cy="245.15" r="1.0"/><circle cx="306.22" cy="245.15" r="1.0"/><circle cx="310.31" cy="245.15" r="1.0"/><circle cx="314.41" cy="245.15" r="1.0"/><circle cx="318.50" cy="245.15" r="1.0"/><circle cx="322.59" cy="245.15" r="1.0"/><circle cx="326.68" cy="245.15" r="1.0"/><circle cx="330.77" cy="245.15" r="1.0"/><circle cx="334.86" cy="245.15" r="1.0"/><circle cx="338.95" cy="245.15" r="1.0"/><circle cx="343.04" cy="245.15" r="1.0"/><circle cx="347.13" cy="245.15" r="1.0"/><circle cx="351.22" cy="245.15" r="1.0"/><circle cx="355.32" cy="245.15" r="1.0"/><circle cx="359.41" cy="245.15" r="1.0"/><circle cx="363.50" cy="245.15" r="1.0"/><circle cx="367.59" cy="245.15" r="1.0"/><circle cx="371.68" cy="245.15" r="1.0"/><circle cx="375.77" cy="245.15" r="1.0"/><circle cx="379.86" cy="245.15" r="1.0"/><circle cx="383.95" cy="245.15" r="1.0"/><circle cx="388.04" cy="245.15" r="1.0"/></g>
<polyline points="44.10,243.55 44.60,243.55 45.10,243.59 45.60,243.67 46.10,243.78 46.60,243.92 47.10,244.08 47.60,244.24 48.10,244.40 48.60,244.55 49.10,244.68 49.60,244.79 50.10,244.89 50.60,244.96 51.10,245.02 51.60,245.06 52.10,245.09 52.60,245.11 53.10,245.13 53.60,245.13 54.10,245.14 54.60,245.14 55.10,245.15 55.60,245.15 56.10,245.15 56.60,245.15 57.10,245.15 57.60,245.15 58.10,245.15 58.60,245.15 59.10,245.15 59.60,245.15 60.10,245.15 60.60,245.15 61.10,245.15 61.60,245.15 62.10,245.15 62.60,245.15 63.10,245.15 63.60,245.15 64.10,245.15 64.60,245.15 65.10,245.15 65.60,245.15 66.10,245.15 66.60,245.15 67.10,245.15 67.60,245.15 68.10,245.15 68.60,245.15 69.10,245.15 69.60,245.15 70.10,245.15 70.60,245.15 71.10,245.15 71.60,245.15 72.10,245.15 72.60,245.15 73.10,245.15 73.60,245.15 74.10,245.15 74.60,245.15 75.10,245.15 75.60,245.15 76.10,245.15 76.60,245.15 77.10,245.15 77.60,245.15 78.10,245.15 78.60,245.15 79.10,245.15 79.60,245.15 80.10,245.15 80.60,245.15 81.10,245.15 81.60,245.15 82.10,245.15 82.60,245.15 83.10,245.15 83.60,245.15 84.10,245.15 84.60,245.15 85.10,245.15 85.60,245.15 86.10,245.15 86.60,245.15 87.10,245.15 87.60,245.15 88.10,245.15 88.60,245.15 89.10,245.15 89.60,245.15 90.10,245.15 90.60,245.15 91.10,245.15 91.60,245.15 92.10,245.15 92.60,245.15 93.10,245.15 93.60,245.15 94.10,245.15 94.60,245.15 95.10,245.15 95.60,245.15 96.10,245.15 96.60,245.15 97.10,245.15 97.60,245.15 98.10,245.15 98.60,245.15 99.10,245.15 99.60,245.15 100.10,245.15 100.60,245.15 101.10,245.15 101.60,245.15 102.10,245.15 102.60,245.15 103.10,245.15 103.60,245.15 104.10,245.15 104.60,245.15 105.10,245.15 105.60,245.15 106.10,245.15 106.60,245.15 107.10,245.15 107.60,245.15 108.10,245.15 108.60,245.15 109.10,245.15 109.60,245.15 110.10,245.15 110.60,245.15 111.10,245.15 111.60,245.15 112.10,245.15 112.60,245.15 113.10,245.15 113.60,245.15 114.10,245.15 114.60,245.15 115.10,245.15 115.60,245.15 116.10,245.15 116.60,245.15 117.10,245.15 117.60,245.15 118.10,245.15 118.60,245.15 119.10,245.15 119.60,245.15 120.10,245.15 120.60,245.15 121.10,245.15 121.60,245.15 122.10,245.15 122.60,245.15 123.10,245.15 123.60,245.15 124.10,245.15 124.60,245.14 125.10,245.14 125.60,245.14 126.10,245.14 126.60,245.14 127.10,245.14 127.60,245.14 128.10,245.14 128.60,245.14 129.10,245.14 129.60,245.14 130.10,245.13 130.60,245.13 131.10,245.13 131.60,245.13 132.10,245.12 132.60,245.12 133.10,245.12 133.60,245.12 134.10,245.11 134.60,245.11 135.10,245.10 135.60,245.10 136.10,245.09 136.60,245.09 137.10,245.08 137.60,245.08 138.10,245.07 138.60,245.06 139.10,245.05 139.60,245.04 140.10,245.03 140.60,245.02 141.10,245.01 141.60,245.00 142.10,244.98 142.60,244.97 143.10,244.95 143.60,244.93 144.10,244.91 144.60,244.89 145.10,244.87 145.60,244.85 146.10,244.82 146.60,244.80 147.10,244.77 147.60,244.74 148.10,244.71 148.60,244.67 149.10,244.63 149.60,244.60 150.10,244.55 150.60,244.51 151.10,244.46 151.60,244.41 152.10,244.36 152.60,244.31 153.10,244.25 153.60,244.19 154.10,244.13 154.60,244.06 155.10,243.99 155.60,243.91 156.10,243.83 156.60,243.75 157.10,243.66 157.60,243.56 158.10,243.46 158.60,243.35 159.10,243.24 159.60,243.11 160.10,242.97 160.60,242.81 161.10,242.64 161.60,242.44 162.10,242.22 162.60,241.96 163.10,241.67 163.60,241.33 164.10,240.93 164.60,240.46 165.10,239.91 165.60,239.27 166.10,238.52 166.60,237.64 167.10,236.61 167.60,235.40 168.10,234.01 168.60,232.39 169.10,230.53 169.60,228.39 170.10,225.96 170.60,223.20 171.10,220.09 171.60,216.61 172.10,212.73 172.60,208.44 173.10,203.73 173.60,198.58 174.10,193.00 174.60,187.00 175.10,180.58 175.60,173.77 176.10,166.60 176.60,159.10 177.10,151.33 177.60,143.33 178.10,135.18 178.60,126.94 179.10,118.67 179.60,110.47 180.10,102.41 180.60,94.58 181.10,87.04 181.60,79.89 182.10,73.20 182.60,67.02 183.10,61.44 183.60,56.48 184.10,52.21 184.60,48.63 185.10,45.77 185.60,43.63 186.10,42.19 186.60,41.41 187.10,41.19 187.60,41.58 188.10,42.94 188.60,45.41 189.10,49.04 189.60,53.84 190.10,59.77 190.60,66.75 191.10,74.69 191.60,83.46 192.10,92.90 192.60,102.87 193.10,113.19 193.60,123.69 194.10,134.21 194.60,144.58 195.10,154.67 195.60,164.36 196.10,173.53 196.60,182.12 197.10,190.04 197.60,197.28 198.10,203.81 198.60,209.64 199.10,214.78 199.60,219.27 200.10,223.15 200.60,226.46 201.10,229.27 201.60,231.63 202.10,233.59 202.60,235.21 203.10,236.54 203.60,237.63 204.10,238.51 204.60,239.23 205.10,239.81 205.60,240.29 206.10,240.69 206.60,241.01 207.10,241.29 207.60,241.53 208.10,241.74 208.60,241.92 209.10,242.09 209.60,242.24 210.10,242.39 210.60,242.52 211.10,242.65 211.60,242.77 212.10,242.89 212.60,243.00 213.10,243.11 213.60,243.21 214.10,243.32 214.60,243.41 215.10,243.51 215.60,243.60 216.10,243.68 216.60,243.76 217.10,243.84 217.60,243.92 218.10,243.99 218.60,244.06 219.10,244.13 219.60,244.19 220.10,244.25 220.60,244.31 221.10,244.36 221.60,244.42 222.10,244.46 222.60,244.51 223.10,244.55 223.60,244.60 224.10,244.63 224.60,244.67 225.10,244.71 225.60,244.74 226.10,244.77 226.60,244.80 227.10,244.82 227.60,244.85 228.10,244.87 228.60,244.89 229.10,244.91 229.60,244.93 230.10,244.95 230.60,244.97 231.10,244.98 231.60,245.00 232.10,245.01 232.60,245.02 233.10,245.03 233.60,245.04 234.10,245.05 234.60,245.06 235.10,245.07 235.60,245.08 236.10,245.08 236.60,245.09 237.10,245.09 237.60,245.10 238.10,245.10 238.60,245.11 239.10,245.11 239.60,245.12 240.10,245.12 240.60,245.12 241.10,245.12 241.60,245.13 242.10,245.13 242.60,245.13 243.10,245.13 243.60,245.14 244.10,245.14 244.60,245.14 245.10,245.14 245.60,245.14 246.10,245.14 246.60,245.14 247.10,245.14 247.60,245.14 248.10,245.14 248.60,245.14 249.10,245.15 249.60,245.15 250.10,245.15 250.60,245.15 251.10,245.15 251.60,245.15 252.10,245.15 252.60,245.15 253.10,245.15 253.60,245.15 254.10,245.15 254.60,245.15 255.10,245.15 255.60,245.15 256.10,245.15 256.60,245.15 257.10,245.15 257.60,245.15 258.10,245.15 258.60,245.15 259.10,245.15 259.60,245.15 260.10,245.15 260.60,245.15 261.10,245.15 261.60,245.15 262.10,245.15 262.60,245.15 263.10,245.15 263.60,245.15 264.10,245.15 264.60,245.15 265.10,245.15 265.60,245.15 266.10,245.15 266.60,245.15 267.10,245.15 267.60,245.15 268.10,245.15 268.60,245.15 269.10,245.15 269.60,245.15 270.10,245.15 270.60,245.15 271.10,245.15 271.60,245.15 272.10,245.15 272.60,245.15 273.10,245.15 273.60,245.15 274.10,245.15 274.60,245.15 275.10,245.15 275.60,245.15 276.10,245.15 276.60,245.15 277.10,245.15 277.60,245.15 278.10,245.15 278.60,245.15 279.10,245.15 279.60,245.15 280.10,245.15 280.60,245.15 281.10,245.15 281.60,245.15 282.10,245.15 282.60,245.15 283.10,245.15 283.60,245.15 284.10,245.15 284.60,245.15 285.10,245.15 285.60,245.15 286.10,245.15 286.60,245.15 287.10,245.15 287.60,245.15 288.10,245.15 288.60,245.15 289.10,245.15 289.60,245.15 290.10,245.15 290.60,245.15 291.10,245.15 291.60,245.15 292.10,245.15 292.60,245.15 293.10,245.15 293.60,245.15 294.10,245.15 294.60,245.15 295.10,245.15 295.60,245.15 296.10,245.15 296.60,245.15 297.10,245.15 297.60,245.15 298.10,245.15 298.60,245.15 299.10,245.15 299.60,245.15 300.10,245.15 300.60,245.15 301.10,245.15 301.60,245.15 302.10,245.15 302.60,245.15 303.10,245.15 303.60,245.15 304.10,245.15 304.60,245.15 305.10,245.15 305.60,245.15 306.10,245.15 306.60,245.15 307.10,245.15 307.60,245.15 308.10,245.15 308.60,245.15 309.10,245.15 309.60,245.15 310.10,245.15 310.60,245.15 311.10,245.15 311.60,245.15 312.10,245.15 312.60,245.15 313.10,245.15 313.60,245.15 314.10,245.15 314.60,245.15 315.10,245.15 315.60,245.15 316.10,245.15 316.60,245.15 317.10,245.15 317.60,245.15 318.10,245.15 318.60,245.15 319.10,245.15 319.60,245.15 320.10,245.15 320.60,245.15 321.10,245.15 321.60,245.15 322.10,245.15 322.60,245.15 323.10,245.15 323.60,245.15 324.10,245.15 324.60,245.15 325.10,245.15 325.60,245.15 326.10,245.15 326.60,245.15 327.10,245.15 327.60,245.15 328.10,245.15 328.60,245.15 329.10,245.15 329.60,245.15 330.10,245.15 330.60,245.15 331.10,245.15 331.60,245.15 332.10,245.15 332.60,245.15 333.10,245.15 333.60,245.15 334.10,245.15 334.60,245.15 335.10,245.15 335.60,245.15 336.10,245.15 336.60,245.15 337.10,245.15 337.60,245.15 338.10,245.15 338.60,245.15 339.10,245.15 339.60,245.15 340.10,245.15 340.60,245.15 341.10,245.15 341.60,245.15 342.10,245.15 342.60,245.15 343.10,245.15 343.60,245.15 344.10,245.15 344.60,245.15 345.10,245.15 345.60,245.15 346.10,245.15 346.60,245.15 347.10,245.15 347.60,245.15 348.10,245.15 348.60,245.15 349.10,245.15 349.60,245.15 350.10,245.15 350.60,245.15 351.10,245.15 351.60,245.15 352.10,245.15 352.60,245.15 353.10,245.15 353.60,245.15 354.10,245.15 354.60,245.15 355.10,245.15 355.60,245.15 356.10,245.15 356.60,245.15 357.10,245.15 357.60,245.15 358.10,245.15 358.60,245.15 359.10,245.15 359.60,245.15 360.10,245.15 360.60,245.15 361.10,245.15 361.60,245.15 362.10,245.15 362.60,245.15 363.10,245.15 363.60,245.15 364.10,245.15 364.60,245.15 365.10,245.15 365.60,245.15 366.10,245.15 366.60,245.15 367.10,245.15 367.60,245.15 368.10,245.15 368.60,245.15 369.10,245.15 369.60,245.15 370.10,245.15 370.60,245.15 371.10,245.15 371.60,245.15 372.10,245.15 372.60,245.15 373.10,245.15 373.60,245.15 374.10,245.15 374.60,245.15 375.10,245.15 375.60,245.15 376.10,245.15 376.60,245.15 377.10,245.15 377.60,245.15 378.10,245.15 378.60,245.15 379.10,245.15 379.60,245.15 380.10,245.15 380.60,245.15 381.10,245.15 381.60,245.15 382.10,245.15 382.60,245.15 383.10,245.15 383.60,245.15 384.10,245.15 384.60,245.15 385.10,245.15 385.60,245.15 386.10,245.15 386.60,245.15 387.10,245.15 387.60,245.15 388.10,245.15" fill="none" stroke="#111" stroke-width="1.15"/>
<g fill="#111"><circle cx="44.40" cy="243.54" r="1.2"/><circle cx="48.49" cy="244.52" r="1.2"/><circle cx="52.58" cy="245.11" r="1.2"/><circle cx="56.67" cy="245.15" r="1.2"/><circle cx="60.76" cy="245.15" r="1.2"/><circle cx="64.86" cy="245.15" r="1.2"/><circle cx="68.95" cy="245.15" r="1.2"/><circle cx="73.04" cy="245.15" r="1.2"/><circle cx="77.13" cy="245.15" r="1.2"/><circle cx="81.22" cy="245.15" r="1.2"/><circle cx="85.31" cy="245.15" r="1.2"/><circle cx="89.40" cy="245.15" r="1.2"/><circle cx="93.49" cy="245.15" r="1.2"/><circle cx="97.58" cy="245.15" r="1.2"/><circle cx="101.67" cy="245.15" r="1.2"/><circle cx="105.77" cy="245.15" r="1.2"/><circle cx="109.86" cy="245.15" r="1.2"/><circle cx="113.95" cy="245.15" r="1.2"/><circle cx="118.04" cy="245.15" r="1.2"/><circle cx="122.13" cy="245.15" r="1.2"/><circle cx="126.22" cy="245.14" r="1.2"/><circle cx="130.31" cy="245.13" r="1.2"/><circle cx="134.40" cy="245.11" r="1.2"/><circle cx="138.49" cy="245.06" r="1.2"/><circle cx="142.58" cy="244.97" r="1.2"/><circle cx="146.68" cy="244.79" r="1.2"/><circle cx="150.77" cy="244.50" r="1.2"/><circle cx="154.86" cy="244.02" r="1.2"/><circle cx="158.95" cy="243.27" r="1.2"/><circle cx="163.04" cy="241.71" r="1.2"/><circle cx="167.13" cy="236.54" r="1.2"/><circle cx="171.22" cy="219.28" r="1.2"/><circle cx="175.31" cy="177.74" r="1.2"/><circle cx="179.40" cy="113.69" r="1.2"/><circle cx="183.49" cy="57.48" r="1.2"/><circle cx="187.59" cy="41.55" r="1.2"/><circle cx="191.68" cy="84.85" r="1.2"/><circle cx="195.77" cy="167.49" r="1.2"/><circle cx="199.86" cy="221.34" r="1.2"/><circle cx="203.95" cy="238.26" r="1.2"/><circle cx="208.04" cy="241.71" r="1.2"/><circle cx="212.13" cy="242.90" r="1.2"/><circle cx="216.22" cy="243.70" r="1.2"/><circle cx="220.31" cy="244.28" r="1.2"/><circle cx="224.40" cy="244.66" r="1.2"/><circle cx="228.50" cy="244.89" r="1.2"/><circle cx="232.59" cy="245.02" r="1.2"/><circle cx="236.68" cy="245.09" r="1.2"/><circle cx="240.77" cy="245.12" r="1.2"/><circle cx="244.86" cy="245.14" r="1.2"/><circle cx="248.95" cy="245.15" r="1.2"/><circle cx="253.04" cy="245.15" r="1.2"/><circle cx="257.13" cy="245.15" r="1.2"/><circle cx="261.22" cy="245.15" r="1.2"/><circle cx="265.31" cy="245.15" r="1.2"/><circle cx="269.41" cy="245.15" r="1.2"/><circle cx="273.50" cy="245.15" r="1.2"/><circle cx="277.59" cy="245.15" r="1.2"/><circle cx="281.68" cy="245.15" r="1.2"/><circle cx="285.77" cy="245.15" r="1.2"/><circle cx="289.86" cy="245.15" r="1.2"/><circle cx="293.95" cy="245.15" r="1.2"/><circle cx="298.04" cy="245.15" r="1.2"/><circle cx="302.13" cy="245.15" r="1.2"/><circle cx="306.22" cy="245.15" r="1.2"/><circle cx="310.31" cy="245.15" r="1.2"/><circle cx="314.41" cy="245.15" r="1.2"/><circle cx="318.50" cy="245.15" r="1.2"/><circle cx="322.59" cy="245.15" r="1.2"/><circle cx="326.68" cy="245.15" r="1.2"/><circle cx="330.77" cy="245.15" r="1.2"/><circle cx="334.86" cy="245.15" r="1.2"/><circle cx="338.95" cy="245.15" r="1.2"/><circle cx="343.04" cy="245.15" r="1.2"/><circle cx="347.13" cy="245.15" r="1.2"/><circle cx="351.22" cy="245.15" r="1.2"/><circle cx="355.32" cy="245.15" r="1.2"/><circle cx="359.41" cy="245.15" r="1.2"/><circle cx="363.50" cy="245.15" r="1.2"/><circle cx="367.59" cy="245.15" r="1.2"/><circle cx="371.68" cy="245.15" r="1.2"/><circle cx="375.77" cy="245.15" r="1.2"/><circle cx="379.86" cy="245.15" r="1.2"/><circle cx="383.95" cy="245.15" r="1.2"/><circle cx="388.04" cy="245.15" r="1.2"/></g>
<line x1="204.1" y1="23.60" x2="226" y2="23.60" stroke="#111" stroke-width="1.4"/>
<circle cx="214.8" cy="23.60" r="1.2" fill="#111"/>
<text class="lg" transform="translate(231.20,27.10) scale(0.95,1)" text-anchor="start">LGALS-11 isoform-1 0.9 mg/ml</text>
<line x1="204.1" y1="34.25" x2="226" y2="34.25" stroke="#111" stroke-width="1.2" stroke-dasharray="1,2"/>
<circle cx="214.8" cy="34.25" r="1.0" fill="#111"/>
<text class="lg" transform="translate(231.20,37.30) scale(0.95,1)" text-anchor="start">LGALS-11 isoform-1 0.3 mg/ml</text>
<line x1="204.1" y1="44.50" x2="226" y2="44.50" stroke="#111" stroke-width="1.3" stroke-dasharray="6.8,2.3"/>
<circle cx="214.8" cy="44.50" r="1.0" fill="#111"/>
<text class="lg" transform="translate(231.20,47.60) scale(0.95,1)" text-anchor="start">LGALS-11 isoform-1 0.1 mg/ml</text>
<text class="ti" transform="translate(11.6,124.4) rotate(-90)" text-anchor="middle" style="font-size:10.5px;letter-spacing:0.2px"><tspan font-style="italic">c(s)</tspan> (S<tspan font-size="7.5px" dy="-5">-1</tspan><tspan dy="5" dx="-0.2">)</tspan></text>
<text class="ti" y="284.3" style="stroke:#111;stroke-width:0.25px"><tspan x="195.0" font-style="italic">s</tspan><tspan x="201.0" font-size="7.8px" dy="3.4" style="stroke-width:0.1px">20,w</tspan><tspan x="220.1" dy="-3.4" letter-spacing="0.5" style="stroke-width:0.1px">(S)</tspan></text>
<line x1="449.5" y1="6.5" x2="449.5" y2="243.2" stroke="#505050" stroke-width="1.05"/>
<polyline points="446,6.5 787.5,6.5 787.5,243.2" fill="none" stroke="#404040" stroke-width="1.05"/>
<line x1="449.5" y1="243.2" x2="787.5" y2="243.2" stroke="#909090" stroke-width="1.3"/>
<line x1="446" y1="243.20" x2="449.5" y2="243.20" stroke="#505050" stroke-width="1"/>
<text class="tk" transform="translate(441.50,246.90) scale(0.97,1)" text-anchor="end">0.0</text>
<line x1="446" y1="203.70" x2="449.5" y2="203.70" stroke="#505050" stroke-width="1"/>
<text class="tk" transform="translate(441.50,207.40) scale(0.97,1)" text-anchor="end">0.5</text>
<line x1="446" y1="164.20" x2="449.5" y2="164.20" stroke="#505050" stroke-width="1"/>
<text class="tk" transform="translate(441.50,167.90) scale(0.97,1)" text-anchor="end">1.0</text>
<line x1="446" y1="124.70" x2="449.5" y2="124.70" stroke="#505050" stroke-width="1"/>
<text class="tk" transform="translate(441.50,128.40) scale(0.97,1)" text-anchor="end">1.5</text>
<line x1="446" y1="85.20" x2="449.5" y2="85.20" stroke="#505050" stroke-width="1"/>
<text class="tk" transform="translate(441.50,88.90) scale(0.97,1)" text-anchor="end">2.0</text>
<line x1="446" y1="45.70" x2="449.5" y2="45.70" stroke="#505050" stroke-width="1"/>
<text class="tk" transform="translate(441.50,49.40) scale(0.97,1)" text-anchor="end">2.5</text>
<line x1="446" y1="6.20" x2="449.5" y2="6.20" stroke="#505050" stroke-width="1"/>
<text class="tk" transform="translate(441.50,9.90) scale(0.97,1)" text-anchor="end">3.0</text>
<line x1="509.04" y1="243.2" x2="509.04" y2="246.7" stroke="#404040" stroke-width="1"/>
<text class="tk" transform="translate(509.64,259.80) scale(0.97,1)" text-anchor="middle">2</text>
<line x1="588.48" y1="243.2" x2="588.48" y2="246.7" stroke="#404040" stroke-width="1"/>
<text class="tk" transform="translate(589.08,259.80) scale(0.97,1)" text-anchor="middle">4</text>
<line x1="667.92" y1="243.2" x2="667.92" y2="246.7" stroke="#404040" stroke-width="1"/>
<text class="tk" transform="translate(668.52,259.80) scale(0.97,1)" text-anchor="middle">6</text>
<line x1="747.36" y1="243.2" x2="747.36" y2="246.7" stroke="#404040" stroke-width="1"/>
<text class="tk" transform="translate(747.96,259.80) scale(0.97,1)" text-anchor="middle">8</text>
<polyline points="449.70,242.30 450.50,242.34 451.56,242.41 452.82,242.48 454.22,242.56 455.71,242.64 457.20,242.71 458.66,242.77 460.00,242.80 461.30,242.81 462.65,242.81 464.02,242.79 465.38,242.76 466.68,242.73 467.91,242.69 469.02,242.64 470.00,242.60 470.81,242.57 471.48,242.54 472.04,242.52 472.52,242.49 472.96,242.45 473.38,242.37 473.82,242.26 474.30,242.10 474.81,241.88 475.32,241.62 475.82,241.31 476.32,240.97 476.81,240.63 477.31,240.27 477.80,239.93 478.30,239.60 478.80,239.30 479.29,239.02 479.79,238.74 480.28,238.46 480.78,238.17 481.28,237.85 481.79,237.50 482.30,237.10 482.83,236.65 483.36,236.15 483.90,235.61 484.45,235.05 485.00,234.48 485.54,233.90 486.07,233.34 486.60,232.80 487.12,232.26 487.65,231.71 488.18,231.15 488.70,230.60 489.21,230.07 489.70,229.57 490.16,229.11 490.60,228.70 491.00,228.35 491.35,228.04 491.69,227.76 492.00,227.52 492.31,227.31 492.62,227.12 492.95,226.95 493.30,226.80 493.68,226.67 494.06,226.56 494.46,226.48 494.87,226.42 495.28,226.38 495.69,226.37 496.10,226.37 496.50,226.40 496.90,226.45 497.31,226.53 497.73,226.63 498.14,226.75 498.54,226.89 498.94,227.05 499.33,227.22 499.70,227.40 500.04,227.59 500.34,227.77 500.62,227.97 500.90,228.18 501.19,228.42 501.51,228.70 501.87,229.02 502.30,229.40 502.78,229.85 503.30,230.37 503.85,230.94 504.43,231.54 505.05,232.15 505.70,232.77 506.38,233.35 507.10,233.90 507.84,234.41 508.59,234.92 509.38,235.41 510.19,235.89 511.06,236.36 511.97,236.82 512.95,237.26 514.00,237.70 515.11,238.13 516.25,238.56 517.45,238.98 518.71,239.39 520.04,239.79 521.44,240.15 522.92,240.49 524.50,240.80 526.17,241.07 527.92,241.31 529.75,241.53 531.66,241.72 533.64,241.89 535.69,242.04 537.81,242.18 540.00,242.30 540.87,242.40 539.83,242.48 538.07,242.54 536.78,242.59 537.14,242.62 540.34,242.65 547.56,242.67 560.00,242.70 580.02,242.73 607.52,242.75 639.94,242.76 674.75,242.77 709.40,242.78 741.36,242.79 768.07,242.79 787.00,242.80" fill="none" stroke="#505050" stroke-width="1.05" stroke-dasharray="8.6,3.4" stroke-dashoffset="11.33"/>
<polyline points="449.70,242.60 450.50,242.62 451.56,242.65 452.82,242.68 454.22,242.71 455.71,242.75 457.20,242.77 458.66,242.79 460.00,242.80 461.30,242.80 462.65,242.80 464.01,242.79 465.36,242.78 466.67,242.75 467.89,242.72 469.02,242.67 470.00,242.60 470.84,242.53 471.55,242.47 472.16,242.41 472.69,242.32 473.16,242.22 473.61,242.07 474.05,241.86 474.50,241.60 474.95,241.28 475.38,240.92 475.77,240.51 476.15,240.06 476.51,239.57 476.85,239.03 477.18,238.44 477.50,237.80 477.81,237.10 478.10,236.34 478.38,235.52 478.64,234.66 478.89,233.77 479.13,232.85 479.37,231.93 479.60,231.00 479.83,230.02 480.05,228.97 480.26,227.87 480.47,226.77 480.67,225.69 480.85,224.68 481.03,223.77 481.20,223.00 481.35,222.39 481.49,221.91 481.61,221.53 481.73,221.21 481.84,220.93 481.96,220.64 482.07,220.31 482.20,219.90 482.33,219.44 482.46,218.97 482.59,218.49 482.72,217.99 482.85,217.47 482.99,216.92 483.14,216.33 483.30,215.70 483.46,215.03 483.63,214.33 483.81,213.59 483.99,212.82 484.18,212.03 484.37,211.21 484.58,210.37 484.80,209.50 485.04,208.57 485.30,207.56 485.57,206.50 485.85,205.43 486.13,204.38 486.40,203.39 486.66,202.48 486.90,201.70 487.12,201.05 487.32,200.52 487.51,200.06 487.69,199.66 487.86,199.30 488.04,198.95 488.22,198.59 488.40,198.20 488.59,197.78 488.77,197.34 488.95,196.91 489.13,196.49 489.32,196.08 489.50,195.69 489.70,195.33 489.90,195.00 490.11,194.70 490.33,194.40 490.55,194.12 490.78,193.87 491.01,193.65 491.24,193.48 491.47,193.36 491.70,193.30 491.92,193.30 492.15,193.35 492.37,193.44 492.59,193.58 492.82,193.77 493.04,194.00 493.27,194.28 493.50,194.60 493.72,194.96 493.94,195.35 494.15,195.78 494.37,196.26 494.60,196.80 494.84,197.39 495.10,198.06 495.40,198.80 495.73,199.65 496.09,200.60 496.47,201.64 496.88,202.73 497.28,203.85 497.70,204.97 498.10,206.06 498.50,207.10 498.89,208.09 499.27,209.06 499.66,210.03 500.04,210.98 500.43,211.93 500.82,212.88 501.21,213.84 501.60,214.80 501.99,215.78 502.38,216.78 502.77,217.79 503.16,218.79 503.55,219.79 503.96,220.76 504.37,221.70 504.80,222.60 505.24,223.46 505.69,224.30 506.14,225.11 506.61,225.89 507.08,226.66 507.57,227.39 508.08,228.11 508.60,228.80 509.15,229.47 509.72,230.12 510.31,230.75 510.91,231.36 511.51,231.94 512.12,232.49 512.72,233.01 513.30,233.50 513.86,233.96 514.41,234.37 514.95,234.76 515.49,235.12 516.04,235.46 516.60,235.79 517.19,236.10 517.80,236.40 518.45,236.69 519.13,236.97 519.83,237.23 520.55,237.48 521.27,237.71 522.00,237.93 522.71,238.12 523.40,238.30 524.08,238.45 524.75,238.58 525.41,238.69 526.07,238.79 526.73,238.87 527.38,238.95 528.04,239.02 528.70,239.10 529.36,239.18 530.01,239.25 530.65,239.31 531.30,239.37 531.95,239.43 532.62,239.48 533.30,239.54 534.00,239.60 534.71,239.66 535.41,239.72 536.13,239.78 536.86,239.84 537.61,239.91 538.39,239.97 539.22,240.03 540.10,240.10 541.06,240.17 542.11,240.25 543.22,240.33 544.35,240.41 545.48,240.49 546.56,240.56 547.58,240.63 548.50,240.70 549.29,240.76 549.97,240.81 550.58,240.86 551.15,240.90 551.72,240.94 552.33,240.99 553.01,241.04 553.80,241.10 554.70,241.17 555.66,241.24 556.69,241.31 557.76,241.39 558.86,241.47 559.97,241.55 561.09,241.63 562.20,241.70 563.25,241.77 564.22,241.83 565.18,241.90 566.16,241.96 567.23,242.02 568.42,242.08 569.79,242.14 571.40,242.20 572.06,242.26 571.21,242.31 569.85,242.37 568.96,242.42 569.55,242.47 572.59,242.52 579.07,242.56 590.00,242.60 607.43,242.64 631.32,242.67 659.47,242.70 689.66,242.72 719.71,242.75 747.42,242.77 770.58,242.79 787.00,242.80" fill="none" stroke="#888" stroke-width="1.1" stroke-dasharray="1.2,2.3"/>
<polyline points="449.70,241.20 449.87,241.29 450.09,241.42 450.35,241.57 450.64,241.73 450.96,241.90 451.30,242.06 451.65,242.19 452.00,242.30 452.33,242.38 452.65,242.44 452.97,242.48 453.31,242.52 453.70,242.54 454.14,242.56 454.67,242.58 455.30,242.60 456.05,242.62 456.91,242.62 457.86,242.63 458.86,242.62 459.90,242.62 460.96,242.61 462.00,242.61 463.00,242.60 464.01,242.60 465.07,242.59 466.15,242.59 467.22,242.58 468.26,242.57 469.24,242.56 470.13,242.53 470.90,242.50 471.55,242.46 472.10,242.43 472.57,242.39 472.97,242.35 473.33,242.29 473.65,242.22 473.97,242.12 474.30,242.00 474.62,241.85 474.91,241.68 475.17,241.49 475.41,241.29 475.64,241.06 475.86,240.82 476.08,240.57 476.30,240.30 476.52,240.03 476.74,239.75 476.94,239.47 477.14,239.16 477.34,238.83 477.53,238.47 477.72,238.06 477.90,237.60 478.08,237.09 478.25,236.53 478.42,235.92 478.59,235.29 478.75,234.62 478.90,233.93 479.05,233.22 479.20,232.50 479.34,231.76 479.47,230.99 479.60,230.19 479.72,229.37 479.85,228.54 479.96,227.69 480.08,226.85 480.20,226.00 480.32,225.16 480.43,224.33 480.54,223.50 480.64,222.66 480.75,221.79 480.86,220.90 480.98,219.97 481.10,219.00 481.22,218.11 481.34,217.38 481.45,216.69 481.58,215.94 481.71,215.00 481.85,213.77 482.01,212.14 482.20,210.00 482.41,207.32 482.65,204.21 482.90,200.73 483.17,196.94 483.45,192.91 483.73,188.70 484.02,184.37 484.30,180.00 484.59,175.48 484.88,170.70 485.19,165.73 485.49,160.62 485.80,155.44 486.11,150.23 486.41,145.07 486.70,140.00 487.00,134.81 487.30,129.36 487.61,123.81 487.91,118.31 488.20,113.02 488.47,108.09 488.70,103.70 488.90,100.00 489.06,97.00 489.18,94.57 489.27,92.61 489.34,91.05 489.39,89.80 489.43,88.78 489.46,87.91 489.50,87.10 489.50,87.10 493.60,75.30 493.60,75.30 493.81,77.10 494.08,79.38 494.41,82.08 494.77,85.15 495.16,88.53 495.57,92.17 495.99,96.01 496.40,100.00 496.82,104.27 497.25,108.92 497.70,113.88 498.16,119.04 498.63,124.33 499.11,129.64 499.60,134.90 500.10,140.00 500.63,145.18 501.19,150.61 501.78,156.14 502.38,161.62 502.95,166.90 503.49,171.83 503.98,176.24 504.40,180.00 504.73,182.98 504.97,185.28 505.16,187.07 505.31,188.50 505.46,189.75 505.62,190.97 505.83,192.33 506.10,194.00 506.44,195.96 506.82,198.05 507.24,200.21 507.68,202.38 508.13,204.50 508.57,206.52 509.00,208.37 509.40,210.00 509.78,211.41 510.17,212.67 510.55,213.78 510.92,214.78 511.27,215.67 511.61,216.50 511.92,217.27 512.20,218.00 512.43,218.66 512.61,219.19 512.76,219.64 512.89,220.02 513.03,220.38 513.18,220.75 513.36,221.14 513.60,221.60 513.89,222.12 514.21,222.67 514.57,223.24 514.94,223.82 515.33,224.40 515.73,224.96 516.12,225.50 516.50,226.00 516.87,226.47 517.23,226.91 517.59,227.34 517.95,227.75 518.33,228.15 518.72,228.54 519.14,228.92 519.60,229.30 520.08,229.68 520.59,230.06 521.11,230.43 521.66,230.80 522.23,231.15 522.83,231.49 523.45,231.81 524.10,232.10 524.78,232.37 525.48,232.61 526.20,232.83 526.96,233.03 527.73,233.23 528.53,233.41 529.35,233.60 530.20,233.80 531.08,234.00 531.99,234.19 532.94,234.38 533.90,234.56 534.88,234.75 535.86,234.93 536.83,235.11 537.80,235.30 538.76,235.49 539.72,235.68 540.68,235.86 541.65,236.05 542.62,236.24 543.58,236.43 544.54,236.61 545.50,236.80 546.45,236.99 547.41,237.18 548.36,237.36 549.31,237.55 550.25,237.74 551.20,237.93 552.15,238.11 553.10,238.30 554.05,238.49 555.00,238.68 555.95,238.88 556.90,239.08 557.85,239.27 558.80,239.45 559.75,239.63 560.70,239.80 561.66,239.96 562.62,240.11 563.59,240.25 564.56,240.39 565.52,240.53 566.46,240.66 567.39,240.78 568.30,240.90 569.13,241.02 569.88,241.12 570.58,241.23 571.28,241.33 572.03,241.42 572.87,241.51 573.84,241.61 575.00,241.70 576.38,241.80 577.94,241.89 579.65,241.99 581.45,242.09 583.29,242.18 585.11,242.26 586.86,242.34 588.50,242.40 589.43,242.45 589.44,242.49 589.07,242.52 588.84,242.54 589.29,242.55 590.95,242.57 594.34,242.58 600.00,242.60 608.47,242.62 619.48,242.64 632.34,242.65 646.34,242.67 660.81,242.68 675.04,242.69 688.33,242.70 700.00,242.70 710.61,242.70 721.06,242.69 731.17,242.69 740.75,242.67 749.61,242.66 757.56,242.64 764.42,242.62 770.00,242.60 773.96,242.57 776.34,242.55 777.50,242.52 777.81,242.49 777.65,242.45 777.38,242.41 777.38,242.36 778.00,242.30 779.14,242.23 780.39,242.14 781.70,242.04 783.00,241.93 784.24,241.83 785.36,241.74 786.30,241.66 787.00,241.60" fill="none" stroke="#383838" stroke-width="1.05"/>
<line x1="606.2" y1="24.15" x2="628.1" y2="24.15" stroke="#707070" stroke-width="1.5"/>
<text class="lgr" transform="translate(633.40,27.10) scale(0.94,1)" text-anchor="start">LGALS-11 isoform-2 0.9 mg/ml</text>
<line x1="606.2" y1="34.30" x2="628.1" y2="34.30" stroke="#999" stroke-width="0.9" stroke-dasharray="1,2"/>
<text class="lgr" transform="translate(633.40,37.30) scale(0.94,1)" text-anchor="start">LGALS-11 isoform-2 0.3 mg/ml</text>
<line x1="606.2" y1="44.30" x2="628.1" y2="44.30" stroke="#606060" stroke-width="1.05" stroke-dasharray="6.7,2"/>
<text class="lgr" transform="translate(633.40,47.60) scale(0.94,1)" text-anchor="start">LGALS-11 isoform-2 0.1 mg/ml</text>
<text class="ti" transform="translate(417.9,124.0) rotate(-90)" text-anchor="middle" style="font-size:10.5px;letter-spacing:0.2px"><tspan font-style="italic">c(s)</tspan> (S<tspan font-size="7.5px" dy="-5">-1</tspan><tspan dy="5" dx="-0.2">)</tspan></text>
<text class="ti" y="281.7" style="stroke:#111;stroke-width:0.25px"><tspan x="598.8" font-style="italic">s</tspan><tspan x="604.5" font-size="7.8px" dy="4.0" style="stroke-width:0.1px">20,w</tspan><tspan x="622.6" dy="-4.0" letter-spacing="0.5" style="stroke-width:0.1px">(S)</tspan></text>
</svg></body></html>
